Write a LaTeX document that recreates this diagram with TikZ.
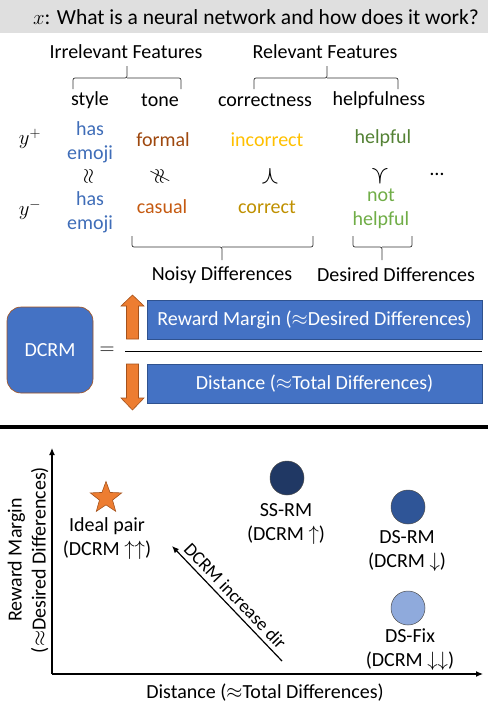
\documentclass[tikz,border=0pt]{standalone}
\usepackage{fontspec}
\setmainfont{Carlito}
\usepackage{amssymb}
\usepackage{graphicx}
\usetikzlibrary{arrows.meta,shapes.geometric}

\definecolor{boxblue}{HTML}{4472C4}
\definecolor{boxedge}{HTML}{2F528F}
\definecolor{accorange}{HTML}{ED7D31}
\definecolor{rimbrown}{HTML}{A4521C}
\definecolor{styleblue}{HTML}{3F6DB8}
\definecolor{formalbrown}{HTML}{9E480E}
\definecolor{casualorange}{HTML}{C55A11}
\definecolor{incorrectgold}{HTML}{FFC000}
\definecolor{correctgold}{HTML}{BF9000}
\definecolor{helpfulgreen}{HTML}{548235}
\definecolor{nothelpgreen}{HTML}{70AD47}
\definecolor{ssnavy}{HTML}{203864}
\definecolor{dsblue}{HTML}{2F5597}
\definecolor{fixblue}{HTML}{8FAADC}

\tikzset{
  bracket/.style={black!80, line width=0.7pt, rounded corners=2pt},
  bluebox/.style={fill=boxblue, draw=boxedge, line width=0.6pt, text=white,
    minimum width=335, minimum height=39, inner sep=0pt},
  blockarrow/.style={fill=accorange, draw=rimbrown, line width=0.6pt},
  dot/.style={circle, draw=black!70, line width=0.5pt, minimum size=34, inner sep=0pt},
  relsym/.style={font=\fontsize{26}{26}\selectfont},
}

\begin{document}
\begin{tikzpicture}[x=1pt, y=-1pt, font=\fontsize{20}{24}\selectfont]
    \useasboundingbox (0,0) rectangle (488,704);
    % question banner
    \fill[gray!25] (0,0) rectangle (488,33);
    \node[font=\fontsize{21.5}{24}\selectfont] (query) at (256,17) {$x$: What is a neural network and how does it work?};

    % feature groups
    \node (irrel) at (126,52) {Irrelevant Features};
    \node (rel) at (325,52) {Relevant Features};
    \draw[bracket] (73,89) |- (127,78) -- (127,66);
    \draw[bracket] (127,78) -| (181,89);
    \draw[bracket] (254,89) |- (327,78) -- (327,66);
    \draw[bracket] (327,78) -| (398,89);

    \node (style) at (90,100) {style};
    \node (tone) at (160,100) {tone};
    \node (corr) at (265,100) {correctness};
    \node (help) at (379,100) {helpfulness};

    % chosen response
    \node (ypos) at (30,139) {$y^+$};
    \node[styleblue, align=center] (posstyle) at (90,142) {has\\emoji};
    \node[formalbrown] (postone) at (163,140) {formal};
    \node[incorrectgold] (poscorr) at (267,140) {incorrect};
    \node[helpfulgreen] (poshelp) at (383,138) {helpful};

    \node (relstyle) at (89,176) {\rotatebox{90}{$\approx$}};
    \node (reltone) at (160,176) {\rotatebox{90}{$\not\approx$}};
    \node[relsym] (relcorr) at (270,176) {$\curlywedge$};
    \node[relsym] (relhelp) at (380,176) {$\curlyvee$};
    \node (more) at (437,174) {\textellipsis};

    % rejected response
    \node (yneg) at (30,210) {$y^-$};
    \node[styleblue, align=center] (negstyle) at (90,212) {has\\emoji};
    \node[casualorange] (negtone) at (162,207) {casual};
    \node[correctgold] (negcorr) at (267,207) {correct};
    \node[nothelpgreen, align=center] (neghelp) at (381,209) {not\\helpful};

    \draw[bracket] (132,236) |- (222,247) -- (222,260);
    \draw[bracket] (222,247) -| (313,236);
    \draw[bracket] (353,236) |- (382,247) -- (382,260);
    \draw[bracket] (382,247) -| (412,236);
    \node (noisy) at (222,275) {Noisy Differences};
    \node (desired) at (396,275) {Desired Differences};

    % DCRM definition
    \node[fill=boxblue, draw=rimbrown, line width=0.6pt, rounded corners=14pt,
          minimum width=86, minimum height=86, text=white] (dcrm) at (50,350) {DCRM};
    \node (eq) at (107,351) {$=$};
    \draw[blockarrow] (126.5,339) -- (126.5,306) -- (121,306) -- (132.5,295)
        -- (144,306) -- (138.5,306) -- (138.5,339) -- cycle;
    \draw[blockarrow] (126.5,364) -- (126.5,398) -- (121,398) -- (132.5,410)
        -- (144,398) -- (138.5,398) -- (138.5,364) -- cycle;
    \node[bluebox] (margin) at (314.5,320) {Reward Margin ($\approx$Desired Differences)};
    \node[bluebox] (dist) at (314.5,383.5) {Distance ($\approx$Total Differences)};
    \draw[line width=1.3pt] (125,351.5) -- (482,351.5);

    \draw[line width=4pt] (0,427) -- (488,427);

    % margin vs distance plot
    \coordinate (origin) at (52,674);
    \coordinate (ytip) at (52,448);
    \coordinate (xtip) at (483,674);
    \draw[line width=1.2pt, -{Latex[length=7pt,width=6pt]}] (origin) -- (ytip);
    \draw[line width=1.2pt, -{Latex[length=7pt,width=6pt]}] (origin) -- (xtip);
    \node[rotate=90, align=center] (ylab) at (28,560) {Reward Margin\\($\approx$Desired Differences)};
    \node (xlab) at (265,693) {Distance ($\approx$Total Differences)};

    \node[star, star points=5, star point ratio=2.4, minimum size=33, inner sep=0pt,
          fill=accorange, draw=rimbrown, line width=0.6pt] (ideal) at (106,498) {};
    \node[align=center] (ideallab) at (107,539) {Ideal pair\\(DCRM $\uparrow\uparrow$)};

    \node[dot, fill=ssnavy] (ssrm) at (287,478) {};
    \node[align=center] (ssrmlab) at (286,524) {SS-RM\\(DCRM $\uparrow$)};
    \node[dot, fill=dsblue] (dsrm) at (408,507) {};
    \node[align=center] (dsrmlab) at (407,551) {DS-RM\\(DCRM $\downarrow$)};
    \node[dot, fill=fixblue] (dsfix) at (408,608) {};
    \node[align=center] (dsfixlab) at (410,650) {DS-Fix\\(DCRM $\downarrow\downarrow$)};

    \coordinate (dirhead) at (172,546);
    \coordinate (dirtail) at (282,661);
    \draw[line width=1.2pt, {Latex[length=7pt,width=6pt]}-] (dirhead) -- (dirtail)
        node[midway, sloped, above=1pt, font=\fontsize{18.5}{22}\selectfont] {DCRM increase dir};
\end{tikzpicture}
\end{document}
